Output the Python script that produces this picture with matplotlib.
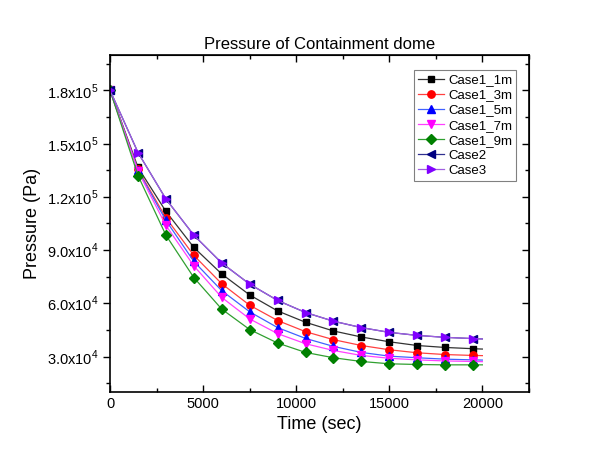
import matplotlib
matplotlib.use("Agg")
import matplotlib.pyplot as plt
from matplotlib.ticker import FuncFormatter, MultipleLocator

plt.rcParams['font.family'] = ['Liberation Sans', 'DejaVu Sans']
plt.rcParams['mathtext.fontset'] = 'custom'
plt.rcParams['mathtext.rm'] = 'Liberation Sans'

time = [0, 1500, 3000, 4500, 6000, 7500, 9000, 10500, 12000, 13500, 15000, 16500, 18000, 19500, 20000]

case1_1m = [180000, 136600, 111800, 91500, 76500, 64700, 55700, 49300, 44400, 41000, 38300, 36200, 35100, 34400, 34200]
case1_3m = [180000, 135500, 108200, 87000, 71000, 58900, 50300, 44000, 39500, 36200, 33800, 32100, 31100, 30600, 30500]
case1_5m = [180000, 135000, 106700, 83600, 67100, 55200, 46300, 40200, 35700, 32300, 30200, 29300, 28500, 28100, 28000]
case1_7m = [180000, 134500, 103900, 81100, 63300, 51200, 42900, 37200, 33400, 30600, 29000, 28100, 27500, 27200, 27100]
case1_9m = [180000, 132000, 98400, 74500, 56700, 45200, 37600, 32300, 29300, 27200, 25900, 25500, 25300, 25300, 25300]
case2 = [180000, 145000, 118800, 98400, 82700, 70800, 61600, 54800, 49900, 46300, 43600, 41900, 40800, 40100, 39900]
case3 = [180000, 145000, 118800, 98400, 82700, 70800, 61600, 54800, 49900, 46300, 43600, 41900, 40800, 40100, 39900]

labels = ['Case1_1m', 'Case1_3m', 'Case1_5m', 'Case1_7m', 'Case1_9m', 'Case2', 'Case3']
series = [case1_1m, case1_3m, case1_5m, case1_7m, case1_9m, case2, case3]
colors = ['#000000', '#FF0000', '#0000FF', '#FF00FF', '#008000', '#000080', '#8000FF']
line_colors = ['#333333', '#FF4040', '#4060FF', '#FF40FF', '#30A030', '#303090', '#A060E0']
markers = ['s', 'o', '^', 'v', 'D', '<', '>']
msizes = [4.8, 5.3, 5.3, 5.3, 4.8, 5.3, 5.3]

fig = plt.figure(figsize=(6.15, 4.70), dpi=100)
ax = fig.add_axes([0.179, 0.166, 0.681, 0.717])

for y, lab, c, lc, m, ms in zip(series, labels, colors, line_colors, markers, msizes):
    ax.plot(time, y, color=lc, lw=0.9, marker=m, markersize=ms,
            markerfacecolor=c, markeredgecolor=c, markevery=list(range(len(time) - 1)),
            label=lab)

ax.set_xlim(0, 22500)
ax.set_ylim(10000, 200000)
ax.xaxis.set_major_locator(MultipleLocator(5000))
ax.xaxis.set_minor_locator(MultipleLocator(2500))
ax.yaxis.set_major_locator(MultipleLocator(30000))
ax.yaxis.set_minor_locator(MultipleLocator(15000))


def yfmt(v, pos):
    if v <= 0:
        return ''
    exp = 0
    m = v
    while m >= 10:
        m /= 10.0
        exp += 1
    return r'%.1fx10$^{%d}$' % (m, exp)


ax.yaxis.set_major_formatter(FuncFormatter(yfmt))

ax.tick_params(axis='y', which='both', direction='out', left=True, right=False, labelsize=10.5)
ax.tick_params(axis='y', which='major', length=5, width=1)
ax.tick_params(axis='y', which='minor', length=3, width=1)
ax.tick_params(axis='x', which='both', direction='in', bottom=True, top=False, labelsize=10.5)
ax.tick_params(axis='x', which='major', length=5, width=1)
ax.tick_params(axis='x', which='minor', length=3, width=1)

# mirrored ticks on top/right axes
axt = ax.secondary_xaxis('top')
axt.xaxis.set_major_locator(MultipleLocator(5000))
axt.xaxis.set_minor_locator(MultipleLocator(2500))
axt.tick_params(axis='x', which='both', direction='in', labeltop=False)
axt.tick_params(axis='x', which='major', length=5, width=1)
axt.tick_params(axis='x', which='minor', length=3, width=1)
axr = ax.secondary_yaxis('right')
axr.yaxis.set_major_locator(MultipleLocator(30000))
axr.yaxis.set_minor_locator(MultipleLocator(15000))
axr.tick_params(axis='y', which='both', direction='in', labelright=False)
axr.tick_params(axis='y', which='major', length=5, width=1)
axr.tick_params(axis='y', which='minor', length=3, width=1)

for sp in ax.spines.values():
    sp.set_linewidth(1.2)

ax.set_xlabel('Time (sec)', fontsize=13)
ax.set_ylabel('Pressure (Pa)', fontsize=13)
ax.set_title('Pressure of Containment dome', fontsize=12, pad=4)

leg = ax.legend(loc='upper right', bbox_to_anchor=(0.985, 0.975), fontsize=9.5,
                frameon=True, fancybox=False, framealpha=1, edgecolor='#808080',
                handlelength=2.0, handletextpad=0.3, borderpad=0.3, labelspacing=0.22,
                markerscale=1.0)
leg.get_frame().set_linewidth(0.8)

fig.savefig('out.png', dpi=100)
